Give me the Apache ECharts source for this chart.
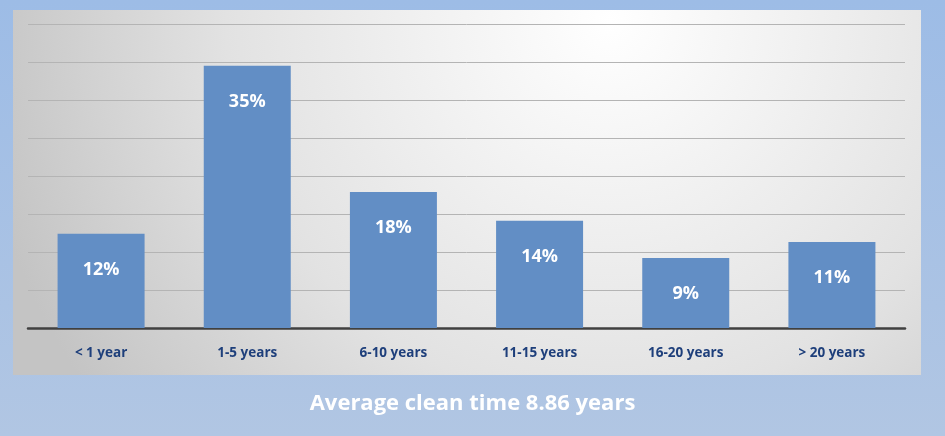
<!DOCTYPE html>
<html>
<head>
<meta charset="utf-8">
<script src="https://cdn.jsdelivr.net/npm/echarts@6/dist/echarts.min.js"></script>
<style>html,body{margin:0;padding:0;}#c{width:945px;height:436px;}</style>
</head>
<body>
<div id="c"></div>
<script>
const categories = ['< 1 year', '1-5 years', '6-10 years', '11-15 years', '16-20 years', '> 20 years'];
const values = [12.4, 34.5, 17.9, 14.1, 9.2, 11.3];
const valueLabels = ['12%', '35%', '18%', '14%', '9%', '11%'];
const titleText = 'Average clean time 8.86 years';

const chart = echarts.init(document.getElementById('c'));
chart.setOption({
  animation: false,
  backgroundColor: '#aac3e4',
  graphic: [
    { type: 'rect', z: -20, silent: true, shape: { x: 0, y: 0, width: 945, height: 436 },
      style: { fill: { type: 'linear', x: 0, y: 0, x2: 0, y2: 1, colorStops: [
        { offset: 0, color: '#9dbce6' }, { offset: 1, color: '#b1c6e3' }] } } },
    { type: 'rect', z: -10, silent: true, shape: { x: 13, y: 10, width: 908, height: 365 },
      style: { fill: { type: 'radial', x: 610, y: 20, r: 640, global: true, colorStops: [
        { offset: 0, color: '#ffffff' }, { offset: 0.6, color: '#e2e2e2' }, { offset: 1, color: '#c4c4c4' }] } } },
    { type: 'text', left: 'center', top: 393, silent: true,
      style: { text: titleText, fill: '#ffffff', font: 'bold 22px "Open Sans", sans-serif' } }
  ],
  grid: { left: 28, right: 40, top: 24, bottom: 108, containLabel: false },
  xAxis: {
    type: 'category', data: categories,
    axisLine: { lineStyle: { color: '#404040', width: 2.5 } },
    axisTick: { show: false },
    axisLabel: { color: '#1e3f7b', fontWeight: 'bold', fontSize: 13.5, fontFamily: 'Open Sans', margin: 18 }
  },
  yAxis: {
    type: 'value', min: 0, max: 40, interval: 5,
    axisLabel: { show: false }, axisLine: { show: false }, axisTick: { show: false },
    splitLine: { lineStyle: { color: '#b4b4b4', width: 1 } }
  },
  series: [{
    type: 'bar', data: values, barWidth: 87,
    itemStyle: { color: '#628ec5' },
    label: {
      show: true, position: 'insideTop', distance: 27,
      formatter: p => valueLabels[p.dataIndex],
      color: '#ffffff', fontWeight: 'bold', fontSize: 18, fontFamily: 'Open Sans'
    }
  }]
});
</script>
</body>
</html>
